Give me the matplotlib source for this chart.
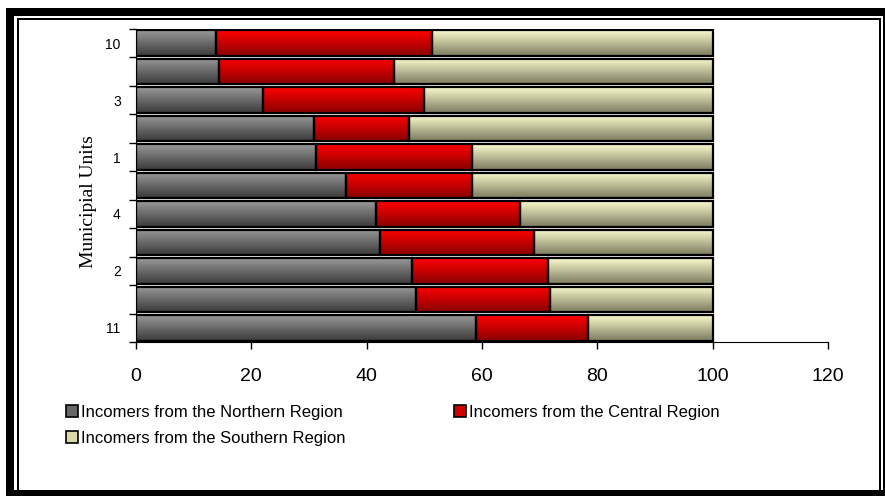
import numpy as np
import matplotlib
matplotlib.use('Agg')
import matplotlib.pyplot as plt
from matplotlib.patches import Rectangle
from matplotlib.colors import LinearSegmentedColormap

# data, bottom bar first
units = ['11', '', '2', '', '4', '', '1', '', '3', '', '10']
north = [58.9, 48.6, 47.8, 42.3, 41.6, 36.4, 31.3, 30.9, 22.0, 14.4, 13.9]
central = [19.4, 23.2, 23.6, 26.7, 25.0, 21.8, 26.9, 16.5, 28.0, 30.3, 37.4]
south = [21.7, 28.2, 28.6, 31.0, 33.4, 41.8, 41.8, 52.6, 50.0, 55.3, 48.7]
series_names = ['Incomers from the Northern Region',
                'Incomers from the Central Region',
                'Incomers from the Southern Region']

# (top colour, bottom colour) for the gradient fill
grad = [('#999999', '#3a3a3a'), ('#ff0000', '#8a0000'), ('#fafacc', '#7c7c60')]
mid = ['#666666', '#cc0000', '#d8d8a8']

W, H = 885, 496
fig = plt.figure(figsize=(W / 100, H / 100), dpi=100)
ax = fig.add_axes([136 / W, 1 - 342 / H, (828 - 136) / W, (342 - 29) / H])

y = np.arange(len(units))
bar_h = 0.9
left = np.zeros(len(units))
for vals, (c_top, c_bot) in zip([north, central, south], grad):
    vals = np.array(vals)
    cmap = LinearSegmentedColormap.from_list('g', [c_bot, c_top])
    bars = ax.barh(y, vals, bar_h, left=left, facecolor='none',
                   edgecolor='black', linewidth=1.6, zorder=3)
    for b in bars:
        x0, y0 = b.get_x(), b.get_y()
        g = np.linspace(1, 0, 64).reshape(-1, 1)
        ax.imshow(g, cmap=cmap, aspect='auto', interpolation='bicubic',
                  extent=[x0, x0 + b.get_width(), y0, y0 + b.get_height()],
                  vmin=0, vmax=1, zorder=2)
    left = left + vals

ax.set_xlim(0, 120)
ax.set_ylim(-0.5, len(units) - 0.5)
ax.set_xticks(range(0, 121, 20))
ax.set_yticks(y)
ax.set_yticklabels(units)
ax.set_yticks(np.arange(-0.5, len(units), 1), minor=True)
ax.tick_params(axis='y', which='major', length=0, pad=11, labelsize=10)
ax.tick_params(axis='y', which='minor', length=5, width=1)
ax.tick_params(axis='x', length=5, width=1, pad=14, labelsize=14)
for lab in ax.get_xticklabels() + ax.get_yticklabels():
    lab.set_fontfamily('Liberation Sans')
ax.spines['top'].set_visible(False)
ax.spines['right'].set_visible(False)
ax.set_ylabel('Municipial Units', fontsize=14, family='Liberation Serif')
ax.yaxis.set_label_coords(-0.056, 0.45)

handles = [Rectangle((0, 0), 1, 1, facecolor=c, edgecolor='black', linewidth=1.2)
           for c in mid]
# legend fills column by column, so order N, S, C gives rows N C / S
order = [0, 2, 1]
leg = ax.legend([handles[i] for i in order], [series_names[i] for i in order],
                loc='upper left', ncol=2,
                bbox_to_anchor=(66 / W, 1 - 405 / H), bbox_transform=fig.transFigure,
                frameon=False, prop={'family': 'Liberation Sans', 'size': 12},
                handlelength=0.7, handleheight=0.75, handletextpad=0.2,
                columnspacing=6.5, labelspacing=0.65, borderpad=0, borderaxespad=0)


def frame(x, yy, w, h):
    fig.add_artist(Rectangle((x / W, 1 - (yy + h) / H), w / W, h / H,
                             transform=fig.transFigure, color='black', lw=0))


# window-like border
frame(6, 8, 879, 8)
frame(6, 8, 8, 488)
frame(6, 490, 879, 6)
frame(883, 8, 2, 488)
frame(17, 18, 864, 2)
frame(17, 18, 2, 472)
frame(879, 18, 2, 472)

fig.savefig('out.png', dpi=100)
